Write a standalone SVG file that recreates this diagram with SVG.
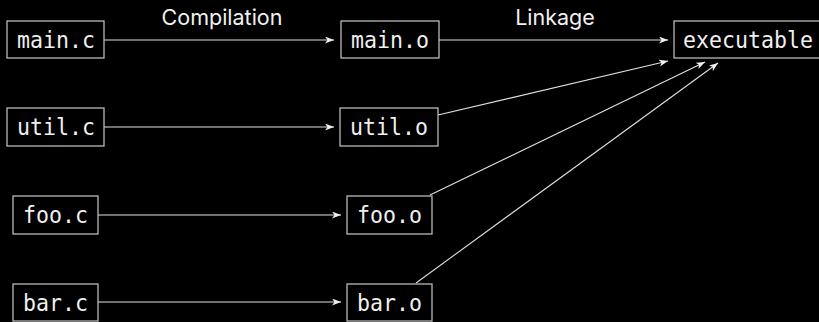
<svg xmlns="http://www.w3.org/2000/svg" width="819" height="322" viewBox="0 0 819 322">
<style>
.bg{fill:#000}
.box{fill:#000;stroke:#c8c8c8;stroke-width:1.2}
.t{font-family:"DejaVu Sans Mono","Liberation Mono",monospace;font-size:21.6px;fill:#f0f0f0;dominant-baseline:central}
.lbl{font-family:Inter,"Liberation Sans",sans-serif;font-size:21.5px;fill:#f0f0f0;text-anchor:middle}
.e{stroke:#e0e0e0;stroke-width:1.1;fill:none;marker-end:url(#ah)}
</style>
<defs>
<marker id="ah" markerUnits="userSpaceOnUse" markerWidth="12" markerHeight="10" refX="9" refY="3.5" orient="auto">
<path d="M0,0 L9,3.5 L0,7 L2.5,3.5 z" fill="#f0f0f0"/>
</marker>
</defs>
<rect class="bg" x="0" y="0" width="819" height="322"/>
<g id="labels">
<text class="lbl" x="222" y="25">Compilation</text>
<text class="lbl" x="555" y="25">Linkage</text>
</g>
<g id="connectors">
<line class="e" x1="104" y1="40" x2="334" y2="40"/>
<line class="e" x1="104" y1="127" x2="334" y2="127"/>
<line class="e" x1="98" y1="215" x2="341" y2="215"/>
<line class="e" x1="98" y1="302" x2="341" y2="302"/>
<line class="e" x1="439" y1="40" x2="668" y2="40"/>
<line class="e" x1="438" y1="115" x2="668" y2="61"/>
<line class="e" x1="430" y1="195" x2="705" y2="62"/>
<line class="e" x1="416" y1="283" x2="718" y2="63"/>
</g>
<g id="main_c"><rect class="box" x="7" y="21" width="97" height="37"/><text class="t" transform="translate(17,40) scale(1,1.1)">main.c</text></g>
<g id="util_c"><rect class="box" x="7" y="108" width="97" height="38"/><text class="t" transform="translate(17,127) scale(1,1.1)">util.c</text></g>
<g id="foo_c"><rect class="box" x="13" y="196" width="85" height="38"/><text class="t" transform="translate(23,215) scale(1,1.1)">foo.c</text></g>
<g id="bar_c"><rect class="box" x="13" y="284" width="85" height="37"/><text class="t" transform="translate(23,303) scale(1,1.1)">bar.c</text></g>
<g id="main_o"><rect class="box" x="341" y="21" width="98" height="37"/><text class="t" transform="translate(351,40) scale(1,1.1)">main.o</text></g>
<g id="util_o"><rect class="box" x="340" y="108" width="98" height="38"/><text class="t" transform="translate(350,127) scale(1,1.1)">util.o</text></g>
<g id="foo_o"><rect class="box" x="347" y="196" width="85" height="38"/><text class="t" transform="translate(357,215) scale(1,1.1)">foo.o</text></g>
<g id="bar_o"><rect class="box" x="347" y="284" width="85" height="37"/><text class="t" transform="translate(357,303) scale(1,1.1)">bar.o</text></g>
<g id="executable"><rect class="box" x="674" y="21" width="150" height="37"/><text class="t" transform="translate(683,40) scale(1,1.1)">executable</text></g>
</svg>
